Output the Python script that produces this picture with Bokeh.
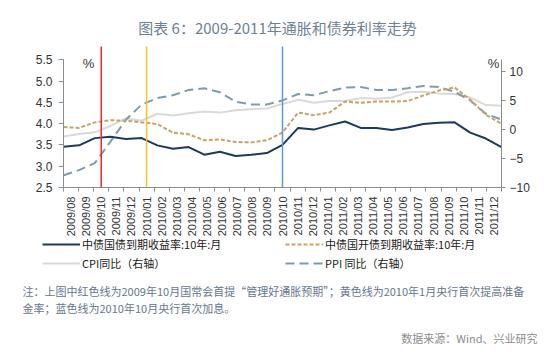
from bokeh.plotting import figure
from bokeh.models import (Range1d, LinearAxis, FixedTicker, CustomJSTickFormatter,
                          PrintfTickFormatter, Label, Legend, LegendItem)
from bokeh.embed import file_html
from bokeh.resources import INLINE

months = ["2009/08", "2009/09", "2009/10", "2009/11", "2009/12",
          "2010/01", "2010/02", "2010/03", "2010/04", "2010/05", "2010/06",
          "2010/07", "2010/08", "2010/09", "2010/10", "2010/11", "2010/12",
          "2011/01", "2011/02", "2011/03", "2011/04", "2011/05", "2011/06",
          "2011/07", "2011/08", "2011/09", "2011/10", "2011/11", "2011/12"]
govt_10y = [3.46, 3.49, 3.66, 3.69, 3.64, 3.66, 3.49, 3.41, 3.45, 3.27,
            3.34, 3.24, 3.27, 3.31, 3.50, 3.90, 3.86, 3.96, 4.05, 3.90,
            3.90, 3.85, 3.91, 3.99, 4.02, 4.03, 3.79, 3.65, 3.45]
cdb_10y = [3.92, 3.90, 4.03, 4.08, 4.07, 4.03, 3.99, 3.79, 3.75, 3.61,
           3.63, 3.57, 3.56, 3.61, 3.79, 4.26, 4.20, 4.26, 4.52, 4.49,
           4.52, 4.52, 4.53, 4.66, 4.78, 4.85, 4.56, 4.21, 4.00]
cpi_yoy = [-1.2, -0.8, -0.5, 0.6, 1.9, 1.5, 2.7, 2.4, 2.8, 3.1, 2.9,
           3.3, 3.5, 3.6, 4.4, 5.1, 4.6, 4.9, 4.9, 5.4, 5.3, 5.5, 6.4,
           6.5, 6.2, 6.1, 5.5, 4.2, 4.1]
ppi_yoy = [-7.9, -7.0, -5.8, -2.1, 1.7, 4.3, 5.4, 5.9, 6.8, 7.1, 6.4,
           4.8, 4.3, 4.3, 5.0, 6.1, 5.9, 6.6, 7.2, 7.3, 6.8, 6.8, 7.1,
           7.5, 7.3, 6.5, 5.0, 2.7, 1.7]
event_months = ["2009/10", "2010/01", "2010/10"]
event_colors = ["#f0262b", "#f7c325", "#5b9bd5"]
left_ticks = [2.5, 3.0, 3.5, 4.0, 4.5, 5.0, 5.5]
right_ticks = [-10, -5, 0, 5, 10]

title_text = "图表 6：2009-2011年通胀和债券利率走势"
note1 = "注：上图中红色线为2009年10月国常会首提“管理好通胀预期”；黄色线为2010年1月央行首次提高准备"
note2 = "金率；蓝色线为2010年10月央行首次加息。"
source_text = "数据来源：Wind、兴业研究"
legend_labels = ["中债国债到期收益率:10年:月", "中债国开债到期收益率:10年:月",
                 "CPI同比（右轴）", "PPI 同比（右轴）"]

# ---- layout constants (screen pixels) ----
W, H = 554, 354
AX_L, AX_R, AX_B = 63, 501, 187      # left axis x, right axis x, x-axis y
Y5_5 = 59.3                           # screen y of 5.5 / 12
n = len(months)
xmax = n - 1
ppx = (AX_R - AX_L) / xmax
ppu_l = (AX_B - Y5_5) / 3.0
ppu_r = (AX_B - Y5_5) / 22.0


def dx(sx):
    return (sx - AX_L) / ppx


def dy(sy):
    return 2.5 + (AX_B - sy) / ppu_l


CJK = "Noto Sans CJK SC"
axis_col = "#8c8c8c"
lab_col = "#333333"

p = figure(width=W, height=H, output_backend="svg", toolbar_location=None,
           x_range=Range1d(dx(0), dx(W)), y_range=Range1d(dy(H), dy(0)),
           min_border=0, min_border_left=0, min_border_right=0,
           min_border_top=0, min_border_bottom=0)
p.title.visible = False
p.extra_y_ranges = {"right": Range1d(-10 - (H - AX_B) / ppu_r, -10 + AX_B / ppu_r)}
p.grid.visible = False
p.outline_line_color = None
p.background_fill_color = "white"
p.border_fill_color = "white"

# left axis
ya = p.yaxis[0]
ya.fixed_location = 0
ya.ticker = FixedTicker(ticks=left_ticks)
ya.formatter = PrintfTickFormatter(format="%.1f")
ya.bounds = (2.5, 5.5)
ya.axis_line_color = axis_col
ya.major_tick_line_color = axis_col
ya.major_tick_out = 5
ya.major_tick_in = 0
ya.minor_tick_line_color = None
ya.major_label_text_font = "Liberation Sans"
ya.major_label_text_font_size = "12px"
ya.major_label_text_color = lab_col
ya.major_label_standoff = 6

# right axis
ra = LinearAxis(y_range_name="right", ticker=FixedTicker(ticks=right_ticks),
                formatter=CustomJSTickFormatter(code="return tick < 0 ? '\\u2212' + Math.abs(tick) : String(tick);"),
                bounds=(-10, 12), fixed_location=xmax)
ra.axis_line_color = axis_col
ra.major_tick_line_color = axis_col
ra.major_tick_out = 4
ra.major_tick_in = 0
ra.minor_tick_line_color = None
ra.major_label_text_font = "Liberation Sans"
ra.major_label_text_font_size = "12px"
ra.major_label_text_color = lab_col
ra.major_label_standoff = 4
p.add_layout(ra, "right")

# x axis: month labels centred between boundary ticks
label_pos = [(k + 0.5) * xmax / n for k in range(n)]
bound_pos = [k * xmax / n for k in range(n + 1)]
xa = p.xaxis[0]
xa.fixed_location = 2.5
xa.bounds = (0, xmax)
xa.ticker = FixedTicker(ticks=label_pos, minor_ticks=bound_pos)
xa.formatter = CustomJSTickFormatter(args=dict(labels=months), code="return labels[index];")
xa.major_label_orientation = 3.14159265 / 2
xa.axis_line_color = axis_col
xa.major_tick_line_color = None
xa.major_tick_out = 0
xa.minor_tick_line_color = axis_col
xa.minor_tick_out = 4
xa.minor_tick_in = 0
xa.major_label_text_font = "Liberation Sans"
xa.major_label_text_font_size = "11px"
xa.major_label_text_color = lab_col
xa.major_label_standoff = 5

xs = list(range(n))
r_cpi = p.line(xs, cpi_yoy, y_range_name="right", line_color="#d9d9d9", line_width=2)
r_ppi = p.line(xs, ppi_yoy, y_range_name="right", line_color="#7d9bb0", line_width=2, line_dash="9 5")
r_cdb = p.line(xs, cdb_10y, line_color="#c6a468", line_width=2, line_dash="4 2")
r_gov = p.line(xs, govt_10y, line_color="#1b3a5e", line_width=2)

ex = [(months.index(m) + 0.5) * xmax / n for m in event_months]
p.segment(x0=ex, y0=[2.5] * len(ex), x1=ex, y1=[dy(46)] * len(ex),
          line_color=event_colors, line_width=1.5)


def add_label(text, sx, sy, size, color, align="left", font=CJK):
    p.add_layout(Label(x=dx(sx), y=dy(sy), text=text, text_align=align,
                       text_baseline="middle", text_font=font,
                       text_font_size=size, text_color=color))


add_label(title_text, 277, 26.6, "15px", "#6e7f96", align="center")
add_label("%", 88, 63, "13px", lab_col, align="center", font="Liberation Sans")
add_label("%", 493, 63, "13px", lab_col, align="center", font="Liberation Sans")
add_label(note1, 22, 290, "11px", "#64768e")
add_label(note2, 22, 307, "11px", "#64768e")
add_label(source_text, 537, 337, "11px", "#8c8c8c", align="right")


def make_legend(items, loc):
    lg = Legend(items=items, location=loc, orientation="vertical",
                glyph_width=38, glyph_height=12, label_height=12,
                label_standoff=2, spacing=3, padding=0, margin=0,
                border_line_alpha=0, background_fill_alpha=0,
                label_text_font=CJK, label_text_font_size="11px",
                label_text_color="#1a1a1a")
    p.add_layout(lg)


make_legend([LegendItem(label=legend_labels[0], renderers=[r_gov]),
             LegendItem(label=legend_labels[2], renderers=[r_cpi])], (42, H - 271))
make_legend([LegendItem(label=legend_labels[1], renderers=[r_cdb]),
             LegendItem(label=legend_labels[3], renderers=[r_ppi])], (285, H - 271))

open("out.html", "w").write(file_html(p, INLINE))
